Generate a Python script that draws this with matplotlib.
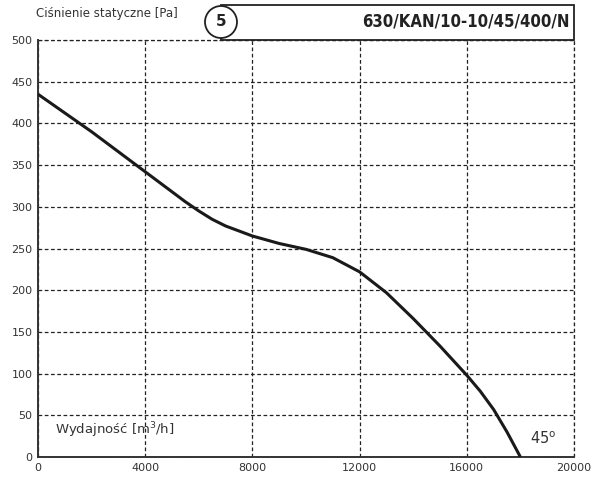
import matplotlib.pyplot as plt
from matplotlib.patches import Rectangle, Circle

# wydajnosc [m3/h] i cisnienie statyczne [Pa]
flow = [0, 2000, 4000, 5000, 5500, 6000, 6500, 7000, 8000, 9000, 10000,
        11000, 12000, 13000, 14000, 15000, 16000, 16500, 17000, 17500, 18000]
pressure = [435, 390, 342, 318, 306, 295, 285, 277, 265, 256, 249,
            239, 222, 197, 166, 133, 98, 79, 57, 30, 0]
x_ticks = [0, 4000, 8000, 12000, 16000, 20000]
y_ticks = [0, 50, 100, 150, 200, 250, 300, 350, 400, 450, 500]

txt = '#333333'
fig = plt.figure(figsize=(5.91, 4.79), dpi=100)
ax = fig.add_axes([38 / 591, 1 - 457 / 479, 536 / 591, 417 / 479])

ax.plot(flow, pressure, color='#1a1a1a', lw=2.2, solid_capstyle='butt',
        solid_joinstyle='round', zorder=3)

ax.set_xlim(0, 20000)
ax.set_ylim(0, 500)
ax.set_xticks(x_ticks)
ax.set_yticks(y_ticks)
ax.tick_params(length=0, labelsize=8, colors=txt, pad=4)
ax.grid(True, color='#222222', ls=(0, (3, 2)), lw=0.9)

# gorna i prawa krawedz jak linie siatki
for s in ['top', 'right']:
    ax.spines[s].set_visible(False)
ax.axhline(500, color='#222222', ls=(0, (3, 2)), lw=0.9, clip_on=False)
ax.axvline(20000, color='#222222', ls=(0, (3, 2)), lw=0.9, clip_on=False)
for s in ['left', 'bottom']:
    ax.spines[s].set_color('#333333')
    ax.spines[s].set_linewidth(1.4)

ax.text(650, 32, 'Wydajność [m$^3$/h]', fontsize=9.5, color=txt, va='center')
ax.text(18350, 22, '45$^{\\rm o}$', fontsize=10.5, color=txt, va='center')

# naglowek
fig.text(36 / 591, 1 - 14 / 479, 'Ciśnienie statyczne [Pa]', fontsize=8.5,
         color=txt, va='center')
fig.patches.append(Rectangle((221 / 591, 1 - 40 / 479), 353 / 591, 35 / 479,
                             transform=fig.transFigure, fill=False,
                             ec='#222222', lw=1.3))
fig.patches.append(Circle((221, 479 - 22), 16, transform=None,
                          fc='white', ec='#222222', lw=1.3, zorder=5))
fig.text(221 / 591, 1 - 22 / 479, '5', fontsize=11, fontweight='bold',
         color='#222222', ha='center', va='center', zorder=6)
fig.text(570 / 591, 1 - 22 / 479, '630/KAN/10-10/45/400/N', fontsize=12,
         fontweight='bold', fontstretch='condensed', color='#222222',
         ha='right', va='center')

fig.savefig('out.png', dpi=100)
